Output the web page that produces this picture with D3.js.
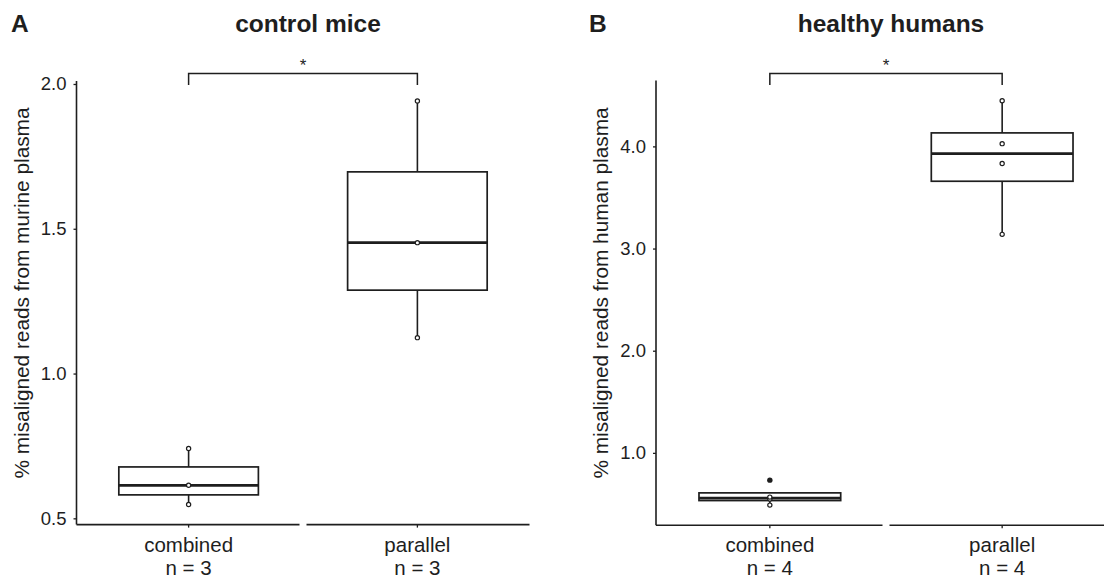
<!DOCTYPE html>
<html>
<head>
<meta charset="utf-8">
<script src="https://cdn.jsdelivr.net/npm/d3@7"></script>
<style>
  body { margin: 0; background: #fff; }
  svg { display: block; font-family: "Liberation Sans", Arial, sans-serif; }
</style>
</head>
<body>
<svg id="chart"></svg>
<script>
// values (% misaligned reads)
const categories = ["combined", "parallel"];
const miceCombined = [0.741, 0.614, 0.548];
const miceParallel = [1.941, 1.452, 1.124];
const humanCombined = [0.733, 0.567, 0.548, 0.489];
const humanParallel = [4.447, 4.027, 3.832, 3.139];
const miceTicks = [0.5, 1.0, 1.5, 2.0];
const humanTicks = [1.0, 2.0, 3.0, 4.0];
const panelLetters = ["A", "B"];
const panelTitles = ["control mice", "healthy humans"];
const yTitles = ["% misaligned reads from murine plasma", "% misaligned reads from human plasma"];
const sigLabels = ["*", "*"];

const W = 1104, H = 580;
const ink = "#1e1e1e";

const svg = d3.select("#chart")
    .attr("width", W)
    .attr("height", H);

// box statistics like geom_boxplot (R type 7 quantiles, 1.5 IQR whiskers)
function boxStats(vals){
    const s = vals.slice().sort(d3.ascending);
    const q1 = d3.quantile(s, 0.25), med = d3.quantile(s, 0.5), q3 = d3.quantile(s, 0.75);
    const iqr = q3 - q1;
    const inside = s.filter(v => v >= q1 - 1.5*iqr && v <= q3 + 1.5*iqr);
    return {
        q1: q1, med: med, q3: q3,
        lo: d3.min(inside), hi: d3.max(inside),
        points: inside,
        outliers: s.filter(v => !inside.includes(v))
    };
}

function drawPanel(i, groups, ticks, box){
    const g = svg.append("g");

    // ggplot style 5% expansion of the data range
    const ext = d3.extent(groups.flat());
    const pad = (ext[1] - ext[0]) * 0.05;
    const y = d3.scaleLinear()
        .domain([ext[0] - pad, ext[1] + pad])
        .range([box.bottom, box.top]);
    const x = d3.scalePoint()
        .domain(categories)
        .range([box.left, box.right])
        .padding(0.49);
    const bw = x.step() * 0.61;

    // panel letter and title
    g.append("text")
        .attr("x", box.letterX).attr("y", 32)
        .attr("font-size", 24.5).attr("font-weight", "bold")
        .attr("fill", ink)
        .text(panelLetters[i]);
    g.append("text")
        .attr("x", (box.left + box.right)/2 + 5).attr("y", 32)
        .attr("font-size", 24.5).attr("font-weight", "bold")
        .attr("text-anchor", "middle")
        .attr("fill", ink)
        .text(panelTitles[i]);

    // y axis
    const yAxis = g.append("g")
        .attr("transform", `translate(${box.left},0)`)
        .call(d3.axisLeft(y).tickValues(ticks).tickFormat(d3.format(".1f")).tickSize(3).tickPadding(7).tickSizeOuter(0));
    yAxis.select(".domain").remove();
    yAxis.selectAll(".tick line").attr("stroke", ink).attr("stroke-width", 1.3);
    yAxis.selectAll(".tick text")
        .attr("font-size", 18.5)
        .attr("fill", ink)
        .attr("font-family", "Liberation Sans, Arial, sans-serif");
    g.append("line")
        .attr("x1", box.left).attr("x2", box.left)
        .attr("y1", box.top).attr("y2", box.bottom)
        .attr("stroke", ink).attr("stroke-width", 1.6);

    // x axis drawn as one segment per category, with a small break between them
    categories.forEach((c, k) => {
        const a = k === 0 ? box.left : x(c) - x.step()/2 + 3.5;
        const b = k === categories.length - 1 ? box.right : x(c) + x.step()/2 - 3.5;
        g.append("line")
            .attr("x1", a).attr("x2", b)
            .attr("y1", box.bottom).attr("y2", box.bottom)
            .attr("stroke", ink).attr("stroke-width", 1.6);
        g.append("line")
            .attr("x1", x(c)).attr("x2", x(c))
            .attr("y1", box.bottom).attr("y2", box.bottom + 3)
            .attr("stroke", ink).attr("stroke-width", 1.3);
        const lab = g.append("text")
            .attr("x", x(c)).attr("y", 552)
            .attr("text-anchor", "middle")
            .attr("font-size", 20.5)
            .attr("fill", ink);
        lab.append("tspan").attr("x", x(c)).text(c);
        lab.append("tspan").attr("x", x(c)).attr("dy", 22.5).text("n = " + groups[k].length);
    });

    // y axis title
    g.append("text")
        .attr("transform", `translate(${box.left - 48},293) rotate(-90)`)
        .attr("text-anchor", "middle")
        .attr("font-size", 20.8)
        .attr("fill", ink)
        .text(yTitles[i]);

    // boxes
    categories.forEach((c, k) => {
        const st = boxStats(groups[k]);
        const cx = x(c);
        const bg = g.append("g");
        bg.append("line")
            .attr("x1", cx).attr("x2", cx)
            .attr("y1", y(st.q3)).attr("y2", y(st.hi))
            .attr("stroke", ink).attr("stroke-width", 1.6);
        bg.append("line")
            .attr("x1", cx).attr("x2", cx)
            .attr("y1", y(st.q1)).attr("y2", y(st.lo))
            .attr("stroke", ink).attr("stroke-width", 1.6);
        bg.append("rect")
            .attr("x", cx - bw/2).attr("width", bw)
            .attr("y", y(st.q3)).attr("height", y(st.q1) - y(st.q3))
            .attr("fill", "#fff")
            .attr("stroke", ink).attr("stroke-width", 1.7);
        bg.append("line")
            .attr("x1", cx - bw/2).attr("x2", cx + bw/2)
            .attr("y1", y(st.med)).attr("y2", y(st.med))
            .attr("stroke", ink).attr("stroke-width", 2.8);
        bg.selectAll(".out")
            .data(st.outliers)
          .enter().append("circle")
            .attr("cx", cx).attr("cy", d => y(d))
            .attr("r", 2.7)
            .attr("fill", ink);
        bg.selectAll(".pt")
            .data(st.points)
          .enter().append("circle")
            .attr("cx", cx).attr("cy", d => y(d))
            .attr("r", 2.1)
            .attr("fill", "#fff")
            .attr("stroke", ink).attr("stroke-width", 1.2);
    });

    // significance bracket
    const bt = 73.5, bl = 85;
    const xa = x(categories[0]), xb = x(categories[1]);
    g.append("path")
        .attr("d", `M${xa},${bl}V${bt}H${xb}V${bl}`)
        .attr("fill", "none")
        .attr("stroke", ink).attr("stroke-width", 1.5);
    g.append("text")
        .attr("x", (xa + xb)/2).attr("y", 71)
        .attr("text-anchor", "middle")
        .attr("font-size", 17)
        .attr("fill", ink)
        .text(sigLabels[i]);
}

drawPanel(0, [miceCombined, miceParallel], miceTicks,
    { left: 76.5, right: 529.5, top: 80.9, bottom: 524.6, letterX: 11 });
drawPanel(1, [humanCombined, humanParallel], humanTicks,
    { left: 656, right: 1116, top: 80.5, bottom: 525.3, letterX: 589 });
</script>
</body>
</html>
